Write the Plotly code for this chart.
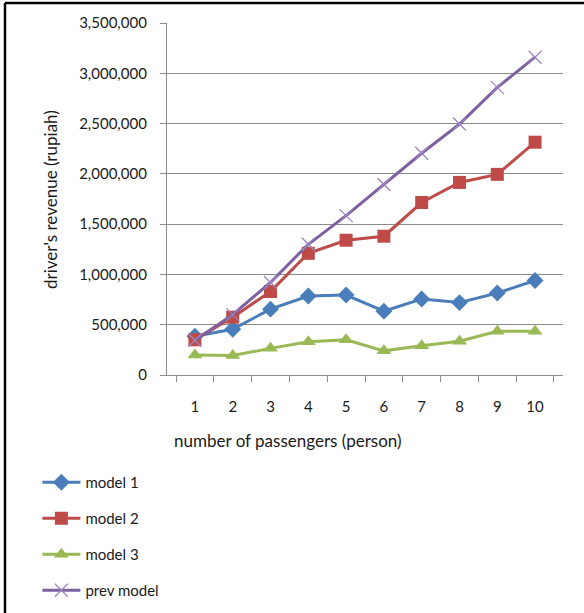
import plotly.graph_objects as go

# passengers per trip (category axis)
passengers = ["1", "2", "3", "4", "5", "6", "7", "8", "9", "10"]

# driver's revenue in rupiah for each model
model_1 = [385000, 455000, 655000, 785000, 795000, 635000, 755000, 720000, 815000, 940000]
model_2 = [350000, 575000, 830000, 1210000, 1340000, 1380000, 1715000, 1915000, 1995000, 2315000]
model_3 = [200000, 195000, 265000, 330000, 350000, 240000, 290000, 335000, 435000, 435000]
prev_model = [345000, 600000, 920000, 1300000, 1585000, 1895000, 2205000, 2495000, 2860000, 3160000]

y_ticks = [0, 500000, 1000000, 1500000, 2000000, 2500000, 3000000, 3500000]

W, H = 584, 613
ML, MR, MT, MB = 167, 21, 23, 238
FONT = "Lato"
GRID = "#8c8c8c"

fig = go.Figure()

fig.add_trace(go.Scatter(
    x=passengers, y=model_1, name="model 1", mode="lines+markers",
    line=dict(color="#4A7EBB", width=3),
    marker=dict(symbol="diamond", size=13, color="#4A7EBB"),
    legendgroup="a"))
fig.add_trace(go.Scatter(
    x=passengers, y=model_2, name="model 2", mode="lines+markers",
    line=dict(color="#BE4B48", width=3),
    marker=dict(symbol="square", size=13, color="#BE4B48"),
    legendgroup="b"))
fig.add_trace(go.Scatter(
    x=passengers, y=model_3, name="model 3", mode="lines+markers",
    line=dict(color="#98B954", width=3),
    marker=dict(symbol="triangle-up", size=13, color="#98B954"),
    legendgroup="c"))
fig.add_trace(go.Scatter(
    x=passengers, y=prev_model, name="prev model", mode="lines+markers",
    line=dict(color="#7D60A0", width=3),
    marker=dict(symbol="x-thin", size=13, color="#B3A2C7",
                line=dict(width=1.3, color="#9D86BE")),
    legendgroup="d"))

# frame lines along the top and left edges of the page
pw = W - ML - MR
ph = H - MT - MB
def px_x(p):
    return (p - ML) / pw
def px_y(p):
    return (H - MB - p) / ph

fig.add_shape(type="line", xref="paper", yref="paper",
              x0=px_x(5), x1=px_x(W + 5), y0=px_y(3), y1=px_y(3),
              line=dict(color="black", width=2.5))
fig.add_shape(type="line", xref="paper", yref="paper",
              x0=px_x(5), x1=px_x(5), y0=px_y(3), y1=px_y(H + 5),
              line=dict(color="black", width=2.5))

fig.update_layout(
    width=W, height=H,
    margin=dict(l=ML, r=MR, t=MT, b=MB, autoexpand=False),
    paper_bgcolor="white", plot_bgcolor="white",
    font=dict(family=FONT, size=15, color="#1a1a1a"),
    showlegend=True,
    legend=dict(
        xref="container", yref="container",
        x=0.064, y=1 - 466 / H, xanchor="left", yanchor="top",
        tracegroupgap=13.5, itemwidth=38,
        font=dict(family=FONT, size=15, color="#1a1a1a"),
        bgcolor="rgba(0,0,0,0)"),
    xaxis=dict(
        type="category", tickson="boundaries",
        ticks="outside", ticklen=6, tickcolor=GRID,
        showline=True, linecolor=GRID, linewidth=1.3,
        showgrid=False, ticklabelstandoff=18,
        tickfont=dict(family=FONT, size=15, color="#1a1a1a")),
    yaxis=dict(
        range=[0, 3500000], tickvals=y_ticks, tickformat=",d",
        ticks="outside", ticklen=6, tickcolor=GRID,
        showline=True, linecolor=GRID, linewidth=1.3,
        showgrid=True, gridcolor=GRID, gridwidth=1.3,
        zeroline=False, ticklabelstandoff=10,
        tickfont=dict(family=FONT, size=15, color="#1a1a1a")),
    annotations=[
        dict(text="number of passengers (person)", xref="paper", yref="paper",
             x=px_x(288), y=px_y(440), xanchor="center", yanchor="middle",
             showarrow=False, font=dict(family=FONT, size=17, color="#1a1a1a")),
        dict(text="driver's revenue (rupiah)", xref="paper", yref="paper",
             x=px_x(50), y=px_y(200), xanchor="center", yanchor="middle",
             textangle=-90, showarrow=False,
             font=dict(family=FONT, size=17, color="#1a1a1a")),
    ],
)

fig.write_html("out.html")
